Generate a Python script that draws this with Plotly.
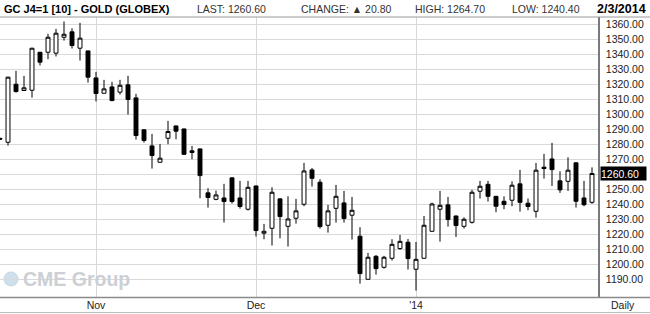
import plotly.graph_objects as go

# ---- data ----
day_index = list(range(-1, 74))
opens = [1284.0, 1281.4, 1320.1, 1315.9, 1316.1, 1341.4, 1341.4, 1340.8, 1351.4, 1355.0,
         1344.1, 1342.3, 1324.3, 1314.1, 1318.3, 1314.8, 1319.7, 1311.0, 1289.7, 1279.0,
         1268.1, 1284.1, 1292.3, 1290.3, 1275.7, 1277.0, 1247.7, 1243.4, 1244.3, 1257.7,
         1244.3, 1236.8, 1252.3, 1220.8, 1224.1, 1243.7, 1225.4, 1230.8, 1240.1, 1263.0,
         1254.8, 1226.1, 1237.4, 1241.0, 1232.8, 1218.8, 1190.1, 1205.4, 1198.1, 1204.1,
         1210.6, 1214.8, 1196.8, 1204.1, 1222.1, 1236.8, 1239.7, 1232.3, 1225.4, 1228.1,
         1248.8, 1253.4, 1245.4, 1242.1, 1242.8, 1253.7, 1240.8, 1235.4, 1264.8, 1270.3,
         1255.7, 1255.4, 1267.7, 1244.3, 1241.4]
highs = [1284.5, 1325.0, 1329.0, 1325.7, 1344.3, 1341.6, 1353.7, 1357.0, 1361.9, 1357.4,
         1361.0, 1342.5, 1328.3, 1323.0, 1321.7, 1323.0, 1325.7, 1313.7, 1289.9, 1287.0,
         1280.3, 1295.7, 1292.5, 1290.5, 1279.0, 1277.2, 1250.8, 1249.2, 1253.7, 1257.9,
         1255.7, 1255.7, 1252.5, 1227.0, 1251.4, 1243.9, 1245.4, 1243.7, 1267.7, 1264.3,
         1256.8, 1239.7, 1253.0, 1249.0, 1245.0, 1224.8, 1207.7, 1206.3, 1205.7, 1216.8,
         1219.7, 1217.0, 1215.0, 1232.3, 1241.2, 1249.0, 1245.0, 1232.5, 1231.4, 1249.7,
         1255.7, 1255.7, 1245.6, 1245.4, 1255.4, 1263.0, 1243.9, 1267.7, 1273.7, 1281.0,
         1262.1, 1271.4, 1268.1, 1255.7, 1264.7]
lows = [1283.0, 1279.2, 1314.6, 1315.6, 1311.2, 1332.6, 1336.8, 1338.6, 1349.2, 1343.9,
        1335.9, 1321.2, 1308.6, 1313.9, 1308.8, 1313.2, 1299.9, 1283.2, 1281.2, 1263.9,
        1267.9, 1280.1, 1283.4, 1273.2, 1270.1, 1244.1, 1237.9, 1242.8, 1227.9, 1240.6,
        1237.2, 1235.9, 1218.6, 1216.8, 1212.6, 1217.4, 1211.9, 1227.2, 1238.8, 1251.9,
        1223.9, 1221.2, 1227.9, 1227.9, 1216.6, 1187.2, 1189.9, 1193.2, 1197.2, 1202.6,
        1209.7, 1196.6, 1182.6, 1203.9, 1221.9, 1215.2, 1225.2, 1218.3, 1223.9, 1227.2,
        1243.9, 1241.9, 1234.8, 1236.8, 1238.8, 1235.2, 1236.1, 1231.2, 1257.2, 1252.3,
        1247.7, 1249.0, 1237.9, 1238.8, 1240.4]
closes = [1283.5, 1324.8, 1315.2, 1317.7, 1344.1, 1334.8, 1351.4, 1354.1, 1353.4, 1345.9,
          1350.8, 1324.8, 1313.9, 1317.0, 1309.2, 1319.4, 1309.9, 1285.9, 1282.6, 1272.6,
          1270.8, 1288.6, 1288.8, 1273.4, 1274.6, 1259.2, 1244.6, 1246.3, 1241.9, 1241.9,
          1238.6, 1251.4, 1222.6, 1222.1, 1248.1, 1231.9, 1230.3, 1235.7, 1262.3, 1257.4,
          1225.2, 1235.7, 1245.4, 1230.6, 1236.1, 1193.9, 1204.8, 1197.2, 1204.8, 1213.4,
          1215.4, 1203.9, 1203.4, 1226.1, 1240.3, 1239.4, 1229.9, 1225.9, 1230.1, 1248.1,
          1252.1, 1245.4, 1238.8, 1239.9, 1252.8, 1241.4, 1238.6, 1262.8, 1263.9, 1263.2,
          1249.7, 1262.8, 1242.1, 1239.8, 1260.6]

month_tick_pos = [11, 31, 51]
month_tick_text = ["Nov", "Dec", "'14"]
y_ticks = [1190 + 10 * i for i in range(18)]

title_text = "GC J4=1 [10] - GOLD (GLOBEX)"
last_text = "LAST: 1260.60"
change_text = "CHANGE: \u25B2 20.80"
high_text = "HIGH: 1264.70"
low_text = "LOW: 1240.40"
date_text = "2/3/2014"
last_price = closes[-1]

# ---- layout geometry (pixels) ----
W, H = 650, 314
PL, PR, PT, PB = 0, 598, 17, 297  # plot area in px


def px(xp):
    return (xp - PL) / (PR - PL)


def py(yp):
    return (PB - yp) / (PB - PT)


FONT = "Liberation Sans, Arial, sans-serif"
GRID = "#d9d9d9"

# the last-price box hides the tick label it covers
y_ticktext = ["" if abs(v - last_price) < 7 else f"{v:.2f}" for v in y_ticks]

fig = go.Figure()
fig.add_trace(go.Candlestick(
    x=day_index, open=opens, high=highs, low=lows, close=closes,
    increasing=dict(line=dict(color="black", width=1), fillcolor="white"),
    decreasing=dict(line=dict(color="black", width=1), fillcolor="black"),
    whiskerwidth=0, showlegend=False, hoverinfo="skip",
))

annotations = [
    dict(text="<b>" + title_text + "</b>", x=px(2), y=py(8.5), xanchor="left", yanchor="middle",
         font=dict(family=FONT, size=11, color="black")),
    dict(text=last_text, x=px(195), y=py(9), xanchor="left", yanchor="middle",
         font=dict(family=FONT, size=10.5, color="#333333")),
    dict(text=change_text, x=px(299), y=py(9), xanchor="left", yanchor="middle",
         font=dict(family=FONT, size=10.5, color="#333333")),
    dict(text=high_text, x=px(413), y=py(9), xanchor="left", yanchor="middle",
         font=dict(family=FONT, size=10.5, color="#333333")),
    dict(text=low_text, x=px(510), y=py(9), xanchor="left", yanchor="middle",
         font=dict(family=FONT, size=10.5, color="#333333")),
    dict(text="<b>" + date_text + "</b>", x=px(648), y=py(8.5), xanchor="right", yanchor="middle",
         font=dict(family=FONT, size=12.5, color="black")),
    dict(text="Daily", x=px(623), y=py(305), xanchor="center", yanchor="middle",
         font=dict(family=FONT, size=10.5, color="#222222")),
    dict(text="<b>CME Group</b>", x=px(21), y=py(279), xanchor="left", yanchor="middle",
         font=dict(family=FONT, size=19.5, color="#ccd0d4")),
    dict(text=f"{last_price:.2f}", x=px(600), y=last_price, yref="y", xanchor="left",
         yanchor="middle", bgcolor="black", borderpad=0, width=45, height=13, align="left",
         font=dict(family=FONT, size=10.5, color="white")),
]
for a in annotations:
    a.setdefault("xref", "paper")
    a.setdefault("yref", "paper")
    a["showarrow"] = False

shapes = [
    # header separator
    dict(type="line", x0=px(0), x1=px(W), y0=py(17), y1=py(17), line=dict(color="#9a9a9a", width=1)),
    # x-axis band top line
    dict(type="line", x0=px(0), x1=px(W), y0=py(297.5), y1=py(297.5), line=dict(color="#8a8a8a", width=1.5)),
    # bottom line
    dict(type="line", x0=px(0), x1=px(W), y0=py(312.5), y1=py(312.5), line=dict(color="#bdbdbd", width=1)),
    # CME globe
    dict(type="circle", x0=px(4), x1=px(18), y0=py(272), y1=py(286),
         fillcolor="#cfe0ec", line=dict(color="#c4d6e4", width=1)),
]
for s in shapes:
    s["xref"] = "paper"
    s["yref"] = "paper"
    s["layer"] = "below" if s["type"] == "circle" else "above"

fig.update_layout(
    width=W, height=H,
    margin=dict(l=PL, r=W - PR, t=PT, b=H - PB, pad=0),
    paper_bgcolor="white", plot_bgcolor="white",
    font=dict(family=FONT, size=10.5, color="#222222"),
    showlegend=False,
    annotations=annotations,
    shapes=shapes,
    xaxis=dict(
        range=[-1, (PR - PL) / 8 - 1], tickvals=month_tick_pos, ticktext=month_tick_text,
        showgrid=True, gridcolor=GRID, gridwidth=1, zeroline=False, showline=False,
        ticks="", rangeslider=dict(visible=False), fixedrange=True,
        tickfont=dict(family=FONT, size=10.5, color="#222222"),
    ),
    yaxis=dict(
        side="right", range=[1178.3, 1364.9], tickvals=y_ticks,
        ticktext=y_ticktext,
        showgrid=True, gridcolor=GRID, gridwidth=1, zeroline=False,
        showline=True, linecolor="#7a7a7a", linewidth=1.5,
        ticks="outside", ticklen=4, tickcolor="rgba(0,0,0,0)",
        tickfont=dict(family=FONT, size=10.5, color="#222222"),
    ),
)

fig.write_html("out.html")
